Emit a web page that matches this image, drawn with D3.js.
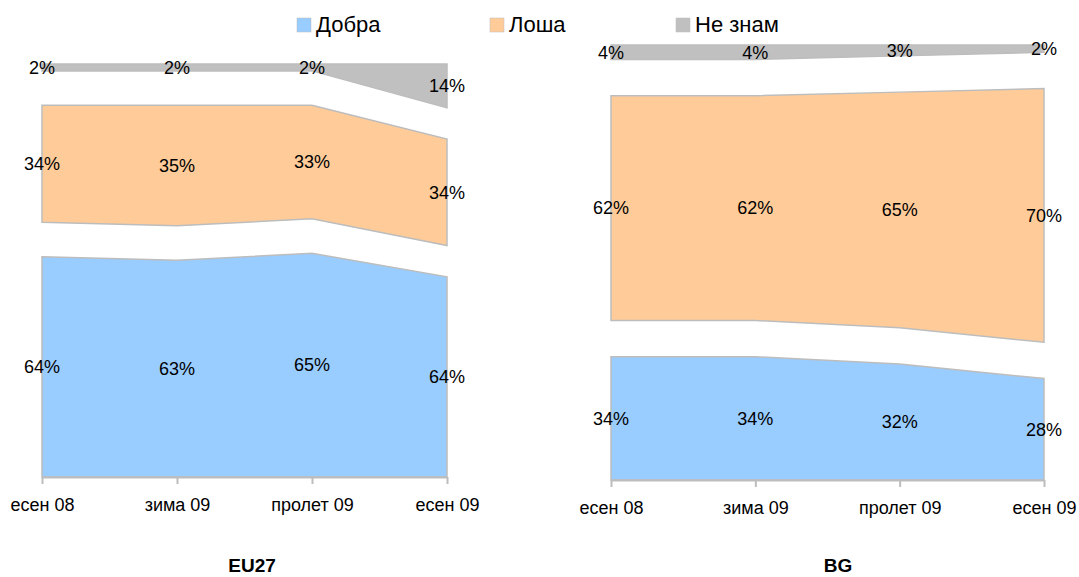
<!DOCTYPE html>
<html><head><meta charset="utf-8">
<script src="https://cdn.jsdelivr.net/npm/d3@7"></script>
<style>body{margin:0;background:#fff;font-family:"Liberation Sans",Arial,sans-serif;}</style>
</head><body><svg id="c" width="1079" height="577"></svg>
<script>
const categories = ["есен 08", "зима 09", "пролет 09", "есен 09"];
const seriesNames = ["Добра", "Лоша", "Не знам"];
const eu27Good = [64, 63, 65, 64];
const eu27Bad = [34, 35, 33, 34];
const eu27DontKnow = [2, 2, 2, 14];
const bgGood = [34, 34, 32, 28];
const bgBad = [62, 62, 65, 70];
const bgDontKnow = [4, 4, 3, 2];
const gapValue = 10; // invisible spacer series between bands
const titles = ["EU27", "BG"];

const colors = {"Добра": "#99ccff", "Лоша": "#ffcc99", "Не знам": "#c0c0c0"};
const svg = d3.select("#c");
const FONT = "Liberation Sans, Arial, sans-serif";

function panel(good, bad, dk, x0, x1, yb, yt, title, titleX) {
  const rows = categories.map((c, i) => ({cat: c, "Добра": good[i], gap1: gapValue, "Лоша": bad[i], gap2: gapValue, "Не знам": dk[i]}));
  const keys = ["Добра", "gap1", "Лоша", "gap2", "Не знам"];
  const stacked = d3.stack().keys(keys).offset(d3.stackOffsetExpand)(rows);
  const x = d3.scalePoint().domain(categories).range([x0, x1]);
  const y = d3.scaleLinear().domain([0, 1]).range([yb, yt]);
  const area = d3.area().x(d => x(d.data.cat)).y0(d => y(d[0])).y1(d => y(d[1]));
  const g = svg.append("g");
  stacked.filter(s => !s.key.startsWith("gap")).forEach(s => {
    g.append("path").datum(s).attr("d", area)
      .attr("fill", colors[s.key]).attr("stroke", "#bdbdbd").attr("stroke-width", 1.5);
  });
  const ax = g.append("g").attr("transform", `translate(0,${yb})`)
    .call(d3.axisBottom(x).tickSize(7).tickSizeOuter(0));
  ax.select(".domain").attr("stroke", "#bdbdbd").attr("stroke-width", 2);
  ax.selectAll(".tick line").attr("stroke", "#bdbdbd").attr("stroke-width", 2);
  ax.selectAll("text").attr("y", 34).attr("dy", 0).attr("font-size", 18).attr("fill", "#000").attr("font-family", FONT);
  stacked.filter(s => !s.key.startsWith("gap")).forEach(s => {
    g.selectAll(null).data(s).enter().append("text")
      .attr("x", d => x(d.data.cat))
      .attr("y", d => (y(d[0]) + y(d[1])) / 2)
      .attr("dy", "0.35em").attr("text-anchor", "middle")
      .attr("font-size", 18).attr("fill", "#000")
      .text(d => d.data[s.key] + "%");
  });
  svg.append("text").attr("x", titleX).attr("y", 572).attr("text-anchor", "middle")
    .attr("font-size", 19).attr("font-weight", "bold").text(title);
}

panel(eu27Good, eu27Bad, eu27DontKnow, 42, 447, 477, 64, titles[0], 252);
panel(bgGood, bgBad, bgDontKnow, 611, 1044, 480, 45, titles[1], 838);

const legX = [297, 490, 676];
seriesNames.forEach((n, i) => {
  svg.append("rect").attr("x", legX[i]).attr("y", 18).attr("width", 14).attr("height", 14)
    .attr("fill", colors[n]).attr("stroke", "#bdbdbd").attr("stroke-width", 0.5);
  svg.append("text").attr("x", legX[i] + 19).attr("y", 32).attr("font-size", 22).attr("fill", "#000").text(n);
});
</script></body></html>
